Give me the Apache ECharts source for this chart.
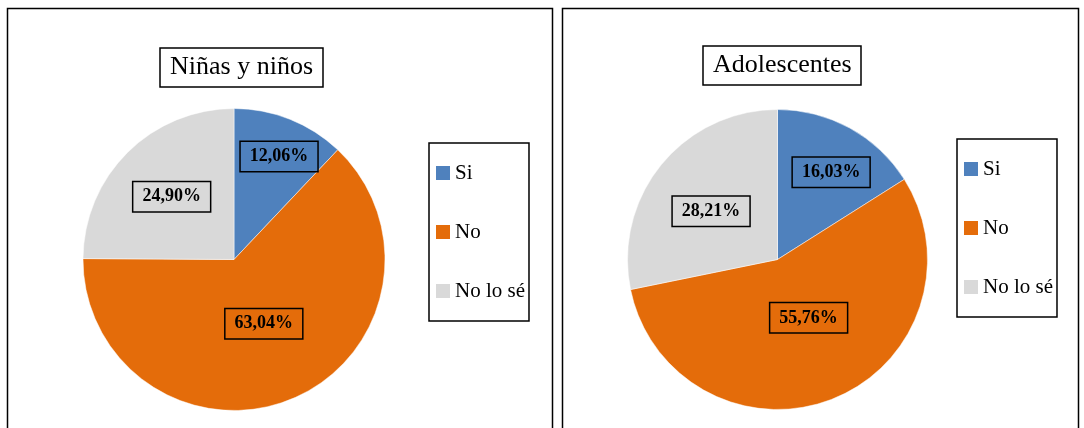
<!DOCTYPE html>
<html>
<head>
<meta charset="UTF-8">
<title>Niñas y niños / Adolescentes</title>
<script src="https://cdn.jsdelivr.net/npm/echarts@6/dist/echarts.min.js"></script>
<style>
  html, body { margin: 0; padding: 0; background: #fff; }
  #main { width: 1084px; height: 428px; }
</style>
</head>
<body>
<div id="main"></div>
<script type="text/javascript">
// datos
var categorias = ['Si', 'No', 'No lo sé'];
var ninos = [12.06, 63.04, 24.90];
var adolescentes = [16.03, 55.76, 28.21];
var titulos = ['Niñas y niños', 'Adolescentes'];
var colores = ['#4F81BD', '#E46C0A', '#D9D9D9'];

// desplazamiento de las etiquetas respecto a la posicion "inside"
var despl = [
  [[16, -30], [-1, -8], [-7, -7]],
  [[16, -19], [2, -14], [-6, 1]]
];

var fuente = 'Liberation Serif, Times New Roman, serif';

function armarDatos(valores) {
  var arr = [];
  for (var i = 0; i < categorias.length; i++) {
    arr.push({
      name: categorias[i],
      value: valores[i],
      itemStyle: { color: colores[i] },
      label: { backgroundColor: colores[i] }
    });
  }
  return arr;
}

function formato(p) {
  return p.value.toFixed(2).replace('.', ',') + '%';
}

function serie(nombre, valores, centro, radio, idx) {
  return {
    name: nombre,
    type: 'pie',
    center: centro,
    radius: radio,
    startAngle: 90,
    clockwise: true,
    silent: true,
    itemStyle: { borderColor: '#fff', borderWidth: 0.5 },
    label: {
      show: true,
      position: 'inside',
      formatter: formato,
      fontFamily: fuente,
      fontSize: 18,
      fontWeight: 'bold',
      color: '#000',
      borderColor: '#000',
      borderWidth: 1.5,
      padding: [6, 9, 5, 9],
      lineHeight: 18
    },
    labelLine: { show: false },
    labelLayout: function (params) {
      var d = despl[idx][params.dataIndex];
      return { dx: d[0], dy: d[1] };
    },
    data: armarDatos(valores)
  };
}

function titulo(texto, x, y) {
  return {
    text: texto,
    left: x,
    top: y,
    borderColor: '#000',
    borderWidth: 1.5,
    padding: [6, 10, 7, 10],
    textStyle: {
      fontFamily: fuente,
      fontSize: 26,
      fontWeight: 'normal',
      color: '#000'
    }
  };
}

function leyenda(x, y) {
  return {
    orient: 'vertical',
    left: x,
    top: y,
    data: categorias,
    icon: 'rect',
    itemWidth: 14,
    itemHeight: 14,
    itemGap: 37,
    padding: [19, 4, 19, 7],
    borderColor: '#000',
    borderWidth: 1.5,
    selectedMode: false,
    itemStyle: { borderWidth: 0 },
    textStyle: {
      fontFamily: fuente,
      fontSize: 21,
      lineHeight: 22,
      color: '#000'
    }
  };
}

var myChart = echarts.init(document.getElementById('main'));

var option = {
  animation: false,
  backgroundColor: '#fff',
  title: [
    titulo(titulos[0], 160, 48),
    titulo(titulos[1], 703, 46)
  ],
  legend: [
    leyenda(429, 143),
    leyenda(957, 139)
  ],
  graphic: [
    { type: 'rect', shape: { x: 7.5, y: 8.5, width: 545, height: 440 },
      style: { fill: 'none', stroke: '#000', lineWidth: 1.5 }, silent: true },
    { type: 'rect', shape: { x: 562.5, y: 8.5, width: 516, height: 440 },
      style: { fill: 'none', stroke: '#000', lineWidth: 1.5 }, silent: true }
  ],
  series: [
    serie(titulos[0], ninos, [234, 259.5], 151, 0),
    serie(titulos[1], adolescentes, [777.5, 259.5], 150, 1)
  ]
};

myChart.setOption(option);
</script>
</body>
</html>
